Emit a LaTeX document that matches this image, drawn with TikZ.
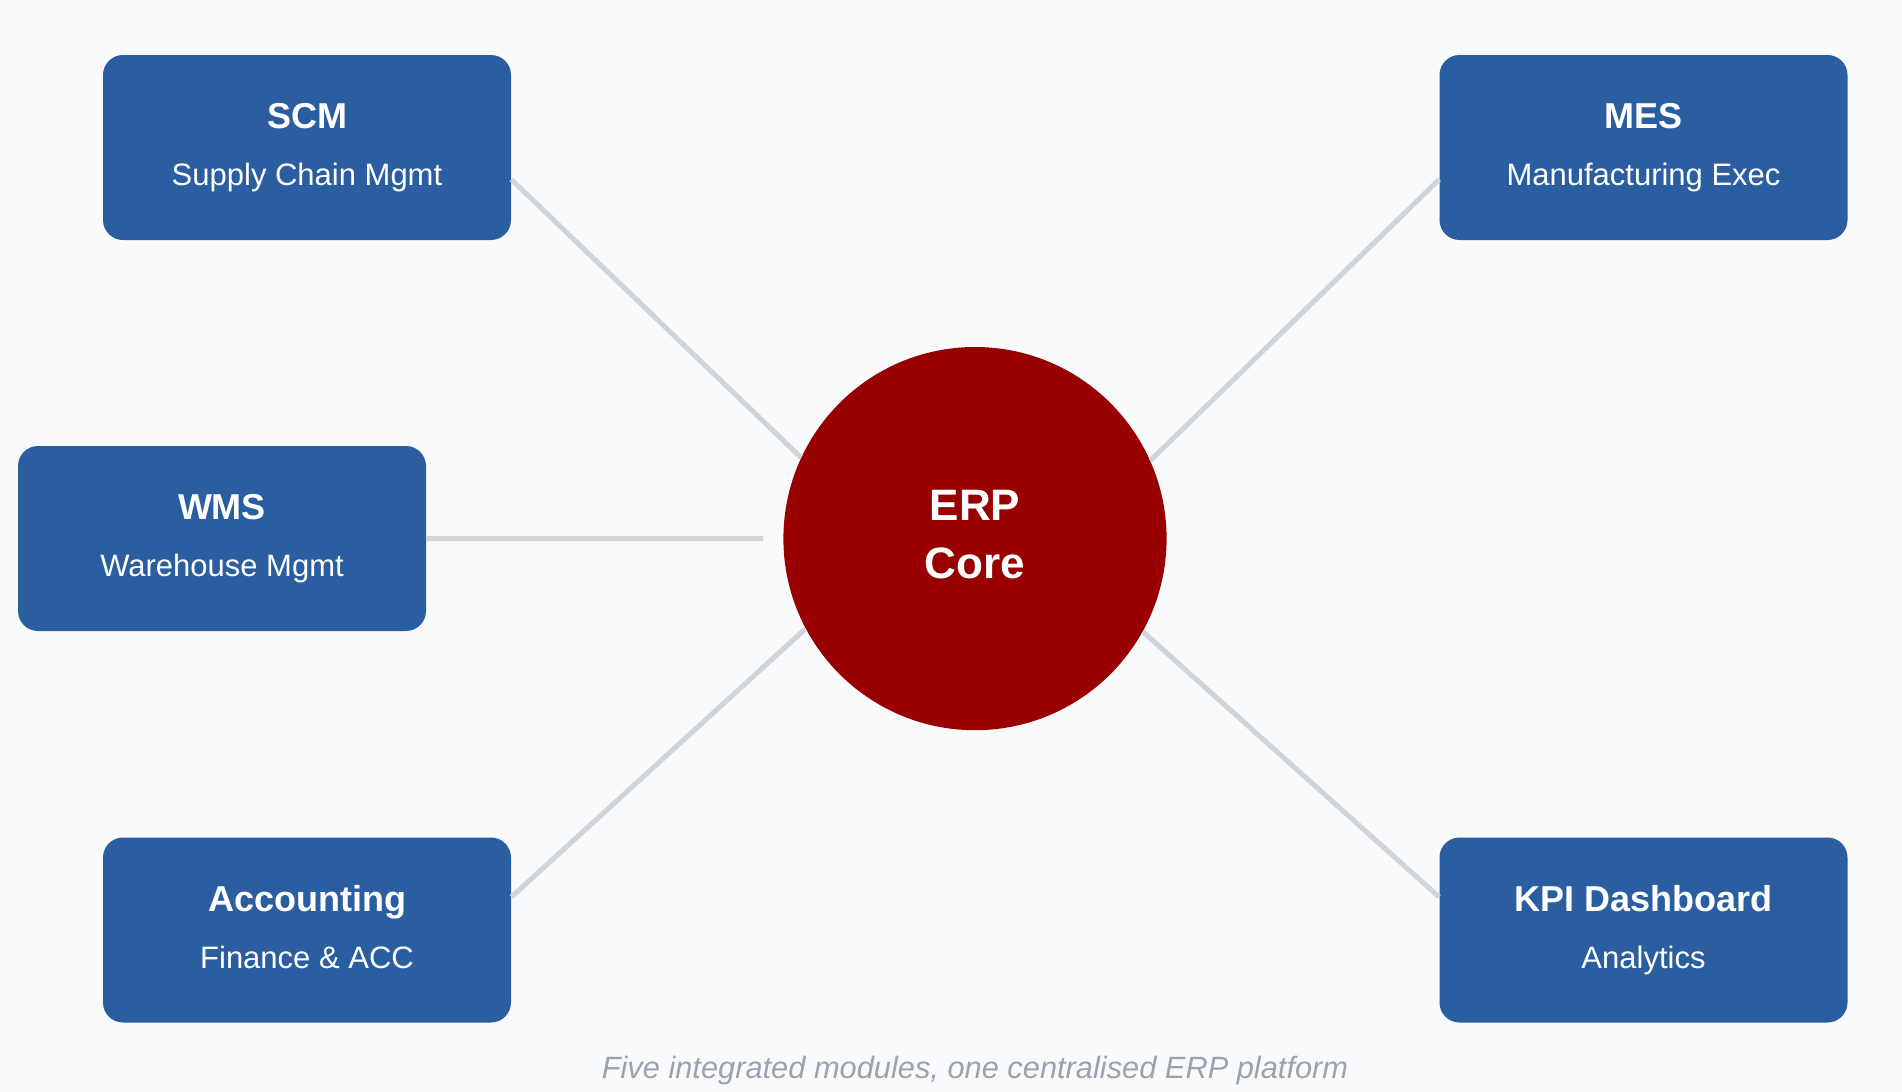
\documentclass[tikz,border=0pt]{standalone}
\usepackage{fontspec}
\setmainfont{Liberation Sans}
\usetikzlibrary{positioning}

\definecolor{bgpage}{HTML}{F8FAFC}
\definecolor{modblue}{HTML}{2B5EA0}
\definecolor{corered}{HTML}{990000}
\definecolor{linkgray}{HTML}{D0D5DC}
\definecolor{capgray}{HTML}{9CA3AF}

\newcommand{\modtxt}[2]{{\bfseries\fontsize{18}{28.5}\selectfont #1}\\#2\vphantom{g}}

\begin{document}
\begin{tikzpicture}[
        x=0.5pt, y=-0.5pt,
        mod/.style    = {fill=modblue, rounded corners=10pt, minimum width=204pt, minimum height=92.5pt,
                         inner sep=0pt, align=center, text=white, font=\fontsize{15.5}{28.5}\selectfont},
        core/.style   = {circle, fill=corered, minimum size=191.6pt, inner sep=0pt, align=center,
                         text=white, font=\bfseries\fontsize{22}{29}\selectfont},
        link/.style   = {draw=linkgray, line width=2.5pt},
        captxt/.style = {anchor=base, text=capgray, font=\itshape\fontsize{15.4}{18}\selectfont}
    ]
        \fill[bgpage] (0,0) rectangle (1902,1092);
        \useasboundingbox (0,0) rectangle (1902,1092);

        \node[mod]  (scm)  at (307,147.5)    {\modtxt{SCM}{Supply Chain Mgmt}};
        \node[mod]  (wms)  at (222,538.5)    {\modtxt{WMS}{Warehouse Mgmt}};
        \node[mod]  (acc)  at (307,930)      {\modtxt{Accounting}{Finance \& ACC}};
        \node[mod]  (mes)  at (1643.5,147.5) {\modtxt{MES}{Manufacturing Exec}};
        \node[mod]  (kpi)  at (1643.5,930)   {\modtxt{KPI Dashboard}{Analytics}};
        \node[core] (core) at (975,538.6)    {ERP\\Core\vphantom{g}};

        \draw[link] ([yshift=-16pt]scm.east) -- (core.155.3);
        \draw[link, shorten >=10pt] (wms.east) -- (core.west);
        \draw[link] ([yshift=16.5pt]acc.east) -- (core.208.3);
        \draw[link] ([yshift=-16pt]mes.west) -- (core.24.7);
        \draw[link] ([yshift=16.5pt]kpi.west) -- (core.331.7);

        \node[captxt] (caption) at (975,1078) {Five integrated modules, one centralised ERP platform};
    \end{tikzpicture}
\end{document}
